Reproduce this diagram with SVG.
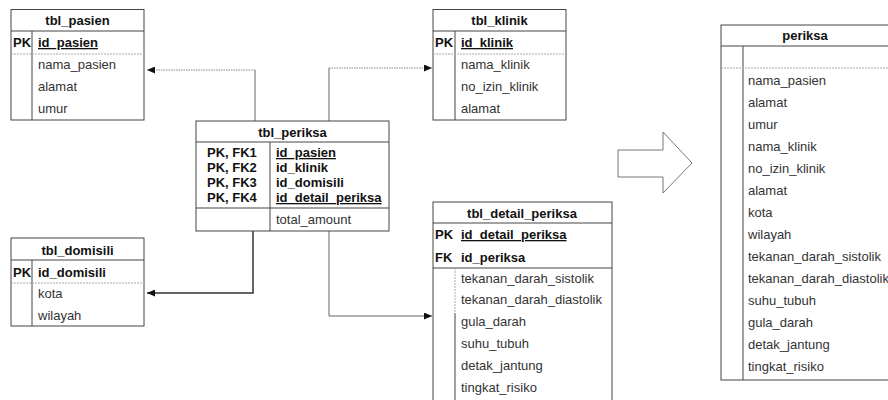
<svg xmlns="http://www.w3.org/2000/svg" width="888" height="400" viewBox="0 0 888 400">
<style>
text{font-family:"Liberation Sans",Arial,sans-serif;font-size:13px;fill:#333}
.t{font-weight:bold;fill:#111;text-anchor:middle}
.k{font-weight:bold;fill:#111}
.u{text-decoration:underline}
.box{fill:#fff;stroke:#444;stroke-width:1}
.ln{stroke:#444;stroke-width:1;fill:none}
.dl{stroke:#aaa;stroke-width:1;stroke-dasharray:2 1;fill:none}
.cn{stroke:#666;stroke-width:1;fill:none}
.ch{stroke:#888;stroke-width:1;stroke-dasharray:1.5 1;fill:none}
.cd{stroke:#333;stroke-width:1.5;fill:none}
</style>
<defs>
<marker id="ah" markerUnits="userSpaceOnUse" markerWidth="8" markerHeight="7" refX="8" refY="3.5" orient="auto">
<path d="M0,0 L8,3.5 L0,7 Z" fill="#111"/>
</marker>
</defs>
<rect width="888" height="400" fill="#fff"/>

<g id="connectors">
<path class="cn" d="M255,121 V70"/><path class="ch" d="M255,70 H147" marker-end="url(#ah)"/>
<path class="cn" d="M329,121 V68"/><path class="ch" d="M329,68 H432" marker-end="url(#ah)"/>
<path class="cd" d="M253,231 V293 H147" marker-end="url(#ah)"/>
<path class="cn" d="M329,231 V316 H432" marker-end="url(#ah)"/>
</g>

<g id="tbl_pasien">
<rect class="box" x="11" y="9.5" width="133" height="110.5"/>
<path class="ln" d="M11,31 H144 M32,31 V120"/>
<path class="dl" d="M11,54 H144"/>
<text class="t" x="77.5" y="25">tbl_pasien</text>
<text class="k" x="13" y="47">PK</text>
<text class="k u" x="38" y="47">id_pasien</text>
<text x="38" y="69">nama_pasien</text>
<text x="38" y="91">alamat</text>
<text x="38" y="113">umur</text>
</g>

<g id="tbl_klinik">
<rect class="box" x="433" y="9.5" width="133" height="110.5"/>
<path class="ln" d="M433,31 H566 M455,31 V120"/>
<path class="dl" d="M433,54 H566"/>
<text class="t" x="499.5" y="25">tbl_klinik</text>
<text class="k" x="435" y="47">PK</text>
<text class="k u" x="461" y="47">id_klinik</text>
<text x="461" y="69">nama_klinik</text>
<text x="461" y="91">no_izin_klinik</text>
<text x="461" y="113">alamat</text>
</g>

<g id="tbl_periksa">
<rect class="box" x="196" y="121" width="193" height="110"/>
<path class="ln" d="M196,142 H389 M196,208 H389 M270,142 V231"/>
<text class="t" x="292.5" y="137">tbl_periksa</text>
<text class="k" x="207" y="157">PK, FK1</text>
<text class="k" x="207" y="172">PK, FK2</text>
<text class="k" x="207" y="187">PK, FK3</text>
<text class="k" x="207" y="202">PK, FK4</text>
<text class="k u" x="276" y="157">id_pasien</text>
<text class="k" x="276" y="172">id_klinik</text>
<text class="k" x="276" y="187">id_domisili</text>
<text class="k u" x="276" y="202">id_detail_periksa</text>
<text x="276" y="224">total_amount</text>
</g>

<g id="tbl_domisili">
<rect class="box" x="11" y="238" width="133" height="88"/>
<path class="ln" d="M11,260 H144 M32,260 V326"/>
<path class="dl" d="M11,283 H144"/>
<text class="t" x="77.5" y="255">tbl_domisili</text>
<text class="k" x="13" y="277">PK</text>
<text class="k" x="38" y="277">id_domisili</text>
<text x="38" y="298">kota</text>
<text x="38" y="320">wilayah</text>
</g>

<g id="tbl_detail_periksa">
<rect class="box" x="433" y="202" width="179" height="202"/>
<path class="ln" d="M433,223 H612 M433,268 H612 M455,313 V404"/>
<path class="dl" d="M455,268 V313"/>
<text class="t" x="522" y="218">tbl_detail_periksa</text>
<text class="k" x="435" y="239">PK</text>
<text class="k u" x="461" y="239">id_detail_periksa</text>
<text class="k" x="435" y="262">FK</text>
<text class="k" x="461" y="262">id_periksa</text>
<text x="461" y="283">tekanan_darah_sistolik</text>
<text x="461" y="304">tekanan_darah_diastolik</text>
<text x="461" y="326">gula_darah</text>
<text x="461" y="348">suhu_tubuh</text>
<text x="461" y="370">detak_jantung</text>
<text x="461" y="392">tingkat_risiko</text>
</g>

<g id="big_arrow">
<polygon points="618,150 663,150 663,132 692,163 663,193 663,177 618,177" fill="#fff" stroke="#777" stroke-width="1"/>
</g>

<g id="periksa">
<rect class="box" x="721" y="25" width="168" height="355"/>
<path class="ln" d="M721,46 H889 M743,46 V380"/>
<path class="dl" d="M721,68 H889"/>
<text class="t" x="805" y="40">periksa</text>
<text x="748" y="85">nama_pasien</text>
<text x="748" y="107">alamat</text>
<text x="748" y="129">umur</text>
<text x="748" y="151">nama_klinik</text>
<text x="748" y="173">no_izin_klinik</text>
<text x="748" y="195">alamat</text>
<text x="748" y="217">kota</text>
<text x="748" y="239">wilayah</text>
<text x="748" y="261">tekanan_darah_sistolik</text>
<text x="748" y="283">tekanan_darah_diastolik</text>
<text x="748" y="305">suhu_tubuh</text>
<text x="748" y="327">gula_darah</text>
<text x="748" y="349">detak_jantung</text>
<text x="748" y="371">tingkat_risiko</text>
</g>
</svg>
